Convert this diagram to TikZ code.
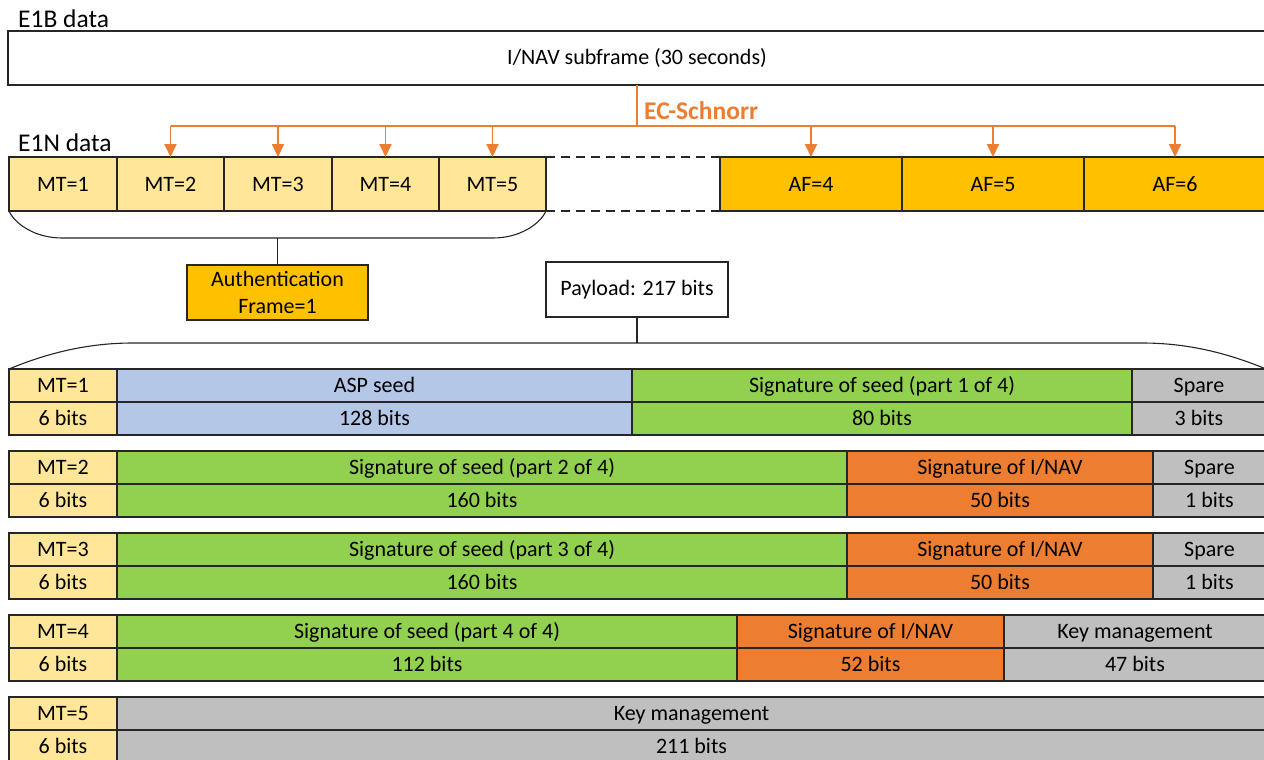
\documentclass[tikz,border=0pt]{standalone}
\usepackage{fontspec}
\setmainfont{Carlito}
\usetikzlibrary{arrows.meta}
\definecolor{mtfill}{HTML}{FFE699}
\definecolor{affill}{HTML}{FFC000}
\definecolor{seedfill}{HTML}{B4C7E7}
\definecolor{sigfill}{HTML}{92D050}
\definecolor{navfill}{HTML}{ED7D31}
\definecolor{sparefill}{HTML}{BFBFBF}
\definecolor{schnorr}{HTML}{ED7D31}
\newcommand\bodyfont{\fontsize{22}{27}\selectfont}
\newcommand\headfont{\fontsize{25.5}{30}\selectfont}
\tikzset{
  box/.style={draw=black!85, line width=1.1pt, inner sep=0pt, outer sep=0pt, anchor=north west, font=\bodyfont},
  cell/.style={box, minimum height=33pt, text height=14pt, text depth=0pt},
  frame/.style={box, minimum height=54pt, text height=14pt, text depth=0pt},
  note/.style={box, minimum width=181pt, minimum height=55pt, align=center},
  tag/.style={anchor=west, inner sep=0pt, font=\headfont},
  bus/.style={draw=schnorr, line width=1.9pt},
  flow/.style={bus, -{Triangle[width=12pt,length=13pt]}},
  brace/.style={draw=black!85, line width=1.1pt},
  gap/.style={draw=black!85, line width=1.1pt, dash pattern=on 9pt off 6pt},
}
% one field of a message: label row on top, size row below
\newcommand\field[7]{%
  \node[cell, fill=#5, minimum width={#3-#2}] (#1) at (#2,#4) {#6};
  \node[cell, fill=#5, minimum width={#3-#2}, anchor=north] (#1b) at (#1.south) {#7};}
\begin{document}
\begin{tikzpicture}[x=1pt, y=-1pt]
  \useasboundingbox (0,0) rectangle (1264,760);
  \fill[white] (0,0) rectangle (1264,760);
  \clip (0,0) rectangle (1264,760);

  \node[tag] (e1b) at (18,18.5) {E1B data};
  \node[frame, fill=white, minimum width=1258pt] (sub) at (8,31) {I/NAV subframe (30 seconds)};
  \node[tag, text=schnorr, font=\headfont\bfseries] (ecs) at (644,111) {EC-Schnorr};
  \node[tag] (e1n) at (18,142.5) {E1N data};

  \node[frame, fill=mtfill, minimum width=108pt] (m1) at (9,157) {MT=1};
  \node[frame, fill=mtfill, minimum width=107pt] (m2) at (117,157) {MT=2};
  \node[frame, fill=mtfill, minimum width=108pt] (m3) at (224,157) {MT=3};
  \node[frame, fill=mtfill, minimum width=107pt] (m4) at (332,157) {MT=4};
  \node[frame, fill=mtfill, minimum width=107pt] (m5) at (439,157) {MT=5};
  \node[frame, fill=affill, minimum width=182pt] (a4) at (720,157) {AF=4};
  \node[frame, fill=affill, minimum width=182pt] (a5) at (902,157) {AF=5};
  \node[frame, fill=affill, minimum width=182pt] (a6) at (1084,157) {AF=6};

  \node[note, fill=affill] (auth) at (187,265) {Authentication\\Frame=1};
  \node[note, fill=white, minimum width=182pt] (pay) at (546,262) {Payload: 217 bits};

  \coordinate (split) at (637,126);
  \coordinate (mtbrace) at (277.5,238);
  \coordinate (paybrace) at (637,343);

  \field{r1mt}{9}{117}{369}{mtfill}{MT=1}{6 bits}
  \field{r1seed}{117}{632}{369}{seedfill}{ASP seed}{128 bits}
  \field{r1sig}{632}{1132}{369}{sigfill}{Signature of seed (part 1 of 4)}{80 bits}
  \field{r1sp}{1132}{1266}{369}{sparefill}{Spare}{3 bits}

  \field{r2mt}{9}{117}{451}{mtfill}{MT=2}{6 bits}
  \field{r2sig}{117}{847}{451}{sigfill}{Signature of seed (part 2 of 4)}{160 bits}
  \field{r2nav}{847}{1153}{451}{navfill}{Signature of I/NAV}{50 bits}
  \field{r2sp}{1153}{1266}{451}{sparefill}{Spare}{1 bits}

  \field{r3mt}{9}{117}{533}{mtfill}{MT=3}{6 bits}
  \field{r3sig}{117}{847}{533}{sigfill}{Signature of seed (part 3 of 4)}{160 bits}
  \field{r3nav}{847}{1153}{533}{navfill}{Signature of I/NAV}{50 bits}
  \field{r3sp}{1153}{1266}{533}{sparefill}{Spare}{1 bits}

  \field{r4mt}{9}{117}{615}{mtfill}{MT=4}{6 bits}
  \field{r4sig}{117}{737}{615}{sigfill}{Signature of seed (part 4 of 4)}{112 bits}
  \field{r4nav}{737}{1004}{615}{navfill}{Signature of I/NAV}{52 bits}
  \field{r4key}{1004}{1266}{615}{sparefill}{Key management}{47 bits}

  \field{r5mt}{9}{117}{697}{mtfill}{MT=5}{6 bits}
  \field{r5key}{117}{1266}{697}{sparefill}{Key management}{211 bits}

  \begin{scope}
    \draw[bus] (sub.south) -- (split);
    \draw[bus] (m2.north |- split) -- (a6.north |- split);
    \draw[flow] (m2.north |- split) -- (m2.north);
    \draw[flow] (m3.north |- split) -- (m3.north);
    \draw[flow] (m4.north |- split) -- (m4.north);
    \draw[flow] (m5.north |- split) -- (m5.north);
    \draw[flow] (a4.north |- split) -- (a4.north);
    \draw[flow] (a5.north |- split) -- (a5.north);
    \draw[flow] (a6.north |- split) -- (a6.north);
  \end{scope}
  \begin{scope}
    \draw[gap] (m5.north east) -- (a4.north west);
    \draw[gap] (m5.south east) -- (a4.south west);
    \draw[brace] (m1.south west) .. controls (15,224) and (35,238) .. (62,238)
      -- (493,238) .. controls (520,238) and (540,224) .. (m5.south east);
    \draw[brace] (mtbrace) -- (auth.north);
    \draw[brace] (r1mt.north west) .. controls (50,352) and (90,343) .. (133,343)
      -- (1142,343) .. controls (1185,343) and (1225,352) .. (r1sp.north east);
    \draw[brace] (pay.south) -- (paybrace);
  \end{scope}
\end{tikzpicture}
\end{document}
